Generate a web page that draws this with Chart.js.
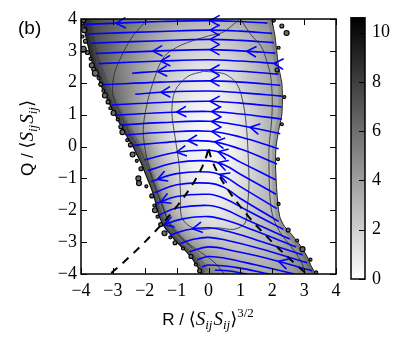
<!DOCTYPE html>
<html><head><meta charset="utf-8">
<script src="https://cdn.jsdelivr.net/npm/chart.js@4.4.0/dist/chart.umd.min.js"></script>
<style>
html,body{margin:0;padding:0;background:#fff;}
#wrap{position:relative;width:407px;height:346px;}
#wrap canvas{position:absolute;left:0;top:0;}
</style></head><body>
<div id="wrap"><canvas id="main" width="407" height="346" style="width:407px;height:346px"></canvas><canvas id="cb" width="407" height="346" style="width:407px;height:346px"></canvas></div>
<script>
// ---------------- data ----------------
const axisTicks = [-4,-3,-2,-1,0,1,2,3,4];
const cbTicks = [0,2,4,6,8,10];
const cbMax = 10.6;

// density grid (value of colour bar), rows = Q, columns = R
const gridR = [-4,-3.5,-3,-2.5,-2,-1.5,-1,-0.5,0,0.5,1,1.5,2,2.5,3,3.5,4];
const gridQ = [4,3.5,3,2.5,2,1.5,1,0.5,0,-0.5,-1,-1.5,-2,-2.5,-3,-3.5,-4];
const density = [
 [8.3,7.4,6.6,5.8,5.0,4.3,3.6,3.2,3.1,3.2,3.7,4.2,4.8,4.8,4.8,4.8,4.8],
 [8.2,7.2,6.2,5.2,4.3,3.5,2.8,2.4,2.3,2.4,2.8,3.4,4.3,4.5,4.5,4.5,4.5],
 [8.0,7.2,6.0,4.9,3.9,3.0,2.3,1.9,1.7,1.9,2.5,3.3,4.4,4.6,4.6,4.6,4.6],
 [7.8,7.1,5.8,4.6,3.6,2.6,1.9,1.3,1.1,1.3,1.9,2.8,3.8,4.3,4.3,4.3,4.3],
 [7.6,7.3,6.1,4.8,3.5,2.5,1.7,1.1,0.8,1.1,1.9,2.7,3.5,4.0,4.0,4.0,4.0],
 [7.4,7.3,6.4,4.8,3.3,2.2,1.4,0.8,0.5,0.8,1.5,2.5,3.4,3.8,3.8,3.8,3.8],
 [7.2,7.2,6.8,5.1,3.2,2.0,1.25,0.6,0.3,0.6,1.25,2.2,3.3,3.8,3.8,3.8,3.8],
 [7.0,7.0,7.0,5.9,3.6,2.0,1.1,0.5,0.25,0.4,1.1,2.1,3.2,3.6,3.6,3.6,3.6],
 [6.9,6.9,6.9,6.6,4.7,2.3,1.2,0.6,0.3,0.3,1.0,2.0,3.1,3.5,3.5,3.5,3.5],
 [6.8,6.8,6.8,6.7,5.4,3.0,1.5,0.6,0.35,0.4,1.1,2.0,3.1,3.5,3.5,3.5,3.5],
 [6.6,6.6,6.6,6.5,5.9,3.7,1.7,0.8,0.4,0.6,1.25,2.1,3.1,3.5,3.5,3.5,3.5],
 [6.4,6.4,6.4,6.3,6.1,4.6,2.2,1.1,0.7,0.8,1.5,2.3,3.1,3.6,3.6,3.6,3.6],
 [6.3,6.3,6.3,6.3,6.2,5.4,2.6,1.5,1.0,1.1,1.7,2.4,3.1,3.8,4.0,4.0,4.0],
 [6.3,6.3,6.3,6.3,6.3,6.0,4.3,2.3,1.6,1.5,1.9,2.5,3.1,3.9,4.5,4.5,4.5],
 [6.4,6.4,6.4,6.4,6.4,6.4,5.8,3.9,2.9,2.5,2.3,2.6,3.1,4.0,5.0,5.0,5.0],
 [6.5,6.5,6.5,6.5,6.5,6.5,6.4,5.7,4.2,3.4,3.0,3.0,3.3,4.0,5.2,6.0,6.0],
 [6.6,6.6,6.6,6.6,6.6,6.6,6.6,6.5,5.2,4.4,3.8,3.5,3.6,4.0,5.0,6.0,6.0]
];

// edges of the populated region
const leftEdgeQ = [4,3.75,3.5,3.25,3,2.75,2.5,2.25,2,1.75,1.5,1.25,1,0.75,0.5,0.25,0,-0.25,-0.5,-0.75,-1,-1.25,-1.5,-1.75,-2,-2.25,-2.5,-2.75,-3,-3.25,-3.5,-3.75,-4];
const leftEdgeR = [-3.95,-3.9,-3.86,-3.8,-3.74,-3.68,-3.6,-3.5,-3.4,-3.3,-3.18,-3.06,-2.93,-2.8,-2.66,-2.52,-2.37,-2.25,-2.12,-2.02,-1.92,-1.82,-1.73,-1.66,-1.6,-1.52,-1.4,-1.2,-1.0,-0.74,-0.52,-0.36,-0.22];
const rightEdgeQ = [-4,-3.75,-3.5,-3.25,-3,-2.75,-2.5,-2.25,-2,-1.5,-1,-0.5,0,0.5,1,1.5,2,2.5,3,3.5,4];
const rightEdgeR = [3.37,3.22,3.12,2.98,2.8,2.6,2.38,2.25,2.2,2.15,2.12,2.1,2.12,2.2,2.3,2.32,2.3,2.2,2.14,2.08,1.98];

// contour lines
const innerContour = [[-0.15,2.36],[0.5,2.28],[0.9,1.95],[1.1,1.3],[1.2,0.5],[1.25,-0.4],[1.27,-1.2],[1.22,-1.9],[1.15,-2.4],[0.8,-2.6],[0.3,-2.55],[-0.2,-2.6],[-0.6,-2.5],[-0.85,-2.2],[-0.88,-1.5],[-0.92,-0.6],[-1.05,0.3],[-1.15,1.1],[-1.05,1.75],[-0.65,2.2],[-0.15,2.36]];
const middleContour = [[0.98,4.0],[0.45,3.58],[0,3.47],[-0.86,3.18],[-1.4,2.81],[-1.75,1.98],[-1.95,1.24],[-2.05,0.5],[-1.95,-0.3],[-1.75,-1.0],[-1.5,-1.7],[-1.25,-2.35],[-0.85,-2.85],[-0.35,-3.25],[0.15,-3.6],[0.5,-4.0]];
const rightContour = [[1.0,4.0],[1.34,3.5],[1.66,3.13],[1.82,2.71],[1.95,2.2],[2.0,1.5],[1.98,0.8],[1.9,0.0],[1.9,-0.8],[1.93,-1.6],[2.02,-2.2],[2.25,-2.7],[2.6,-3.15],[2.9,-3.6],[3.05,-4.0]];
const outerContour = [[-1.9,4.0],[-2.35,3.5],[-2.65,3.0],[-2.95,2.3],[-3.0,1.6],[-2.75,1.0],[-2.45,0.4],[-2.1,-0.2],[-1.85,-0.8],[-1.6,-1.5],[-1.4,-2.0],[-1.2,-2.5],[-0.9,-2.85],[-0.5,-3.2]];

// isolated islands along the edges (R, Q, size)
const blobR = [-3.92,-3.98,-3.9,-3.95,-3.86,-3.93,-3.8,-3.7,-3.66,-3.6,-3.55,-3.45,-3.38,-3.3,-3.25,-3.15,-3.08,-2.98,-2.85,-2.75,-2.7,-2.55,-2.45,-2.38,-2.25,-2.12,-2.2,-2.18,-1.95,-1.78,-1.7,-1.68,-1.6,-1.5,-1.38,-1.2,-1.05,-0.8,-0.55,-0.4,-0.28,
               2.05,2.45,2.3,2.2,2.15,2.38,2.3,2.18,2.2,2.5,2.78,2.95,3.2,3.38];
const blobQ = [3.95,3.8,3.65,3.45,3.3,3.05,2.95,2.75,2.55,2.42,2.3,2.15,1.95,1.75,1.6,1.4,1.2,1.05,0.85,0.62,0.45,0.2,0.05,-0.25,-0.45,-0.7,-1.0,-1.15,-1.25,-1.55,-1.85,-2.0,-2.2,-2.45,-2.72,-2.85,-3.02,-3.2,-3.45,-3.7,-3.9,
               3.95,3.56,3.78,3.1,2.4,1.55,0.7,-0.4,-1.8,-2.62,-2.95,-3.22,-3.55,-3.95];
const blobSize = [2,1.5,2.5,1.5,2,3,2,1.5,2.5,2,3,1.5,2,1.5,2.5,2,1.5,2.5,1.5,2,2.5,1.5,2,2.5,1.5,2,2.5,2.5,1.5,2,1.5,2.5,1.5,2,2.5,1.5,2,1.5,2,1.5,2,
                  1.5,2.5,2,1.5,2,1.5,1.5,1.5,1.5,2,1.5,2.5,1.5,1.5];

// Vieillefosse line (dashed)
const vfR = [-3.05,-2.75,-2.5,-2.25,-2,-1.75,-1.5,-1.25,-1,-0.8,-0.6,-0.45,-0.3,-0.2,-0.1,-0.05,-0.01,0,0.01,0.05,0.1,0.2,0.3,0.45,0.6,0.8,1,1.25,1.5,1.75,2,2.25,2.5,2.75,3.05];
const vfQ = [-3.97,-3.71,-3.48,-3.245,-3.0,-2.744,-2.477,-2.193,-1.89,-1.629,-1.344,-1.11,-0.847,-0.646,-0.407,-0.256,-0.088,0,-0.088,-0.256,-0.407,-0.646,-0.847,-1.11,-1.344,-1.629,-1.89,-2.193,-2.477,-2.744,-3.0,-3.245,-3.48,-3.71,-3.97];

// streamlines, points [R,Q] listed in the flow direction (right to left)
const stream01 = [[1.85,3.87],[1.0,3.92],[0,3.95],[-1.5,3.92],[-3.85,3.83]];
const stream02 = [[2.0,3.55],[1.0,3.62],[0,3.65],[-1.5,3.61],[-3.8,3.53]];
const stream03 = [[2.05,3.26],[1.0,3.33],[0,3.36],[-1.5,3.32],[-3.7,3.24]];
const stream04 = [[2.1,2.93],[1.0,3.0],[0,3.04],[-1.5,3.0],[-3.55,2.92]];
const stream05 = [[2.15,2.6],[1.0,2.68],[0,2.72],[-1.5,2.68],[-3.45,2.6]];
const stream06 = [[2.2,2.27],[1.0,2.36],[0,2.4],[-1.5,2.36],[-2.4,2.3]];
const stream07 = [[2.25,1.92],[1.0,2.02],[0,2.06],[-1.5,2.02],[-3.3,1.94]];
const stream08 = [[2.3,1.58],[1.0,1.69],[0,1.74],[-1.5,1.7],[-2.3,1.64]];
const stream09 = [[2.3,1.24],[1.0,1.36],[0,1.42],[-1.5,1.38],[-3.05,1.3]];
const stream10 = [[2.3,0.86],[1.0,1.02],[0,1.1],[-1.5,1.06],[-2.9,0.98]];
const stream11 = [[2.25,0.4],[1.0,0.66],[0,0.79],[-1.5,0.75],[-2.75,0.67]];
const stream12 = [[2.2,-0.07],[1.0,0.3],[0,0.48],[-1.5,0.44],[-2.6,0.36]];
const stream13 = [[2.15,-0.55],[1.0,-0.08],[0,0.17],[-1.5,0.12],[-2.4,0.03]];
const stream14 = [[2.12,-1.05],[1.0,-0.49],[0.5,-0.23],[0,-0.12],[-1,-0.18],[-2.0,-0.42]];
const stream15 = [[2.12,-1.5],[1.0,-0.87],[0.5,-0.58],[0,-0.45],[-1,-0.5],[-1.9,-0.75]];
const stream16 = [[2.15,-1.95],[1.0,-1.26],[0.5,-0.94],[0,-0.8],[-1,-0.85],[-1.8,-1.1]];
const stream17 = [[2.2,-2.35],[1.0,-1.63],[0.5,-1.29],[0,-1.15],[-1,-1.2],[-1.7,-1.45]];
const stream18 = [[2.35,-2.6],[1.2,-2.0],[0.5,-1.63],[0,-1.5],[-1,-1.57],[-1.65,-1.8]];
const stream19 = [[2.55,-2.9],[1.2,-2.3],[0.5,-1.97],[0,-1.85],[-1,-1.93],[-1.55,-2.15]];
const stream20 = [[2.75,-3.15],[1.4,-2.62],[0.6,-2.33],[0,-2.2],[-0.8,-2.27],[-1.4,-2.45]];
const stream21 = [[2.95,-3.4],[1.5,-2.93],[0.6,-2.66],[0,-2.55],[-0.7,-2.62],[-1.2,-2.78]];
const stream22 = [[3.1,-3.65],[1.6,-3.2],[0.6,-2.95],[0,-2.85],[-0.5,-2.92],[-0.9,-3.05]];
const stream23 = [[3.25,-3.9],[1.8,-3.5],[0.8,-3.28],[0,-3.15],[-0.6,-3.3]];
const stream24 = [[2.7,-4.0],[1.5,-3.72],[0.6,-3.52],[0,-3.45],[-0.35,-3.55]];
const stream25 = [[1.9,-4.0],[0.9,-3.8],[0,-3.72],[-0.2,-3.78]];
const stream26 = [[1.2,-4.0],[0.6,-3.9],[0.2,-3.88]];
const streams = [stream01,stream02,stream03,stream04,stream05,stream06,stream07,stream08,stream09,stream10,stream11,stream12,stream13,stream14,stream15,stream16,stream17,stream18,stream19,stream20,stream21,stream22,stream23,stream24,stream25,stream26];
// R positions of arrow heads on each streamline
const arrowsAt = [[-2.9,0.05],[0.05],[0.05],[-1.75,0.05,1.2],[-1.5,2.05],[-1.6,0.05],[0.05],[-1.5],[0.05],[-1.0,0.1],[0.1,1.3],[0.1],[-0.65,0.2],[0.3,-1.0],[0.3],[0.35,-1.6],[],[-1.5],[],[-1.4],[-0.5],[],[2.2],[],[],[]];

// ---------------- helpers ----------------
const fmt = v => (v < 0 ? '\u2212' + Math.abs(v) : String(v));
const pts = arr => arr.map(p => ({x: p[0], y: p[1]}));
const zip = (a, b) => a.map((v, i) => ({x: v, y: b[i]}));

function bez(p0,p1,p2,p3,t){const u=1-t;return u*u*u*p0+3*u*u*t*p1+3*u*t*t*p2+t*t*t*p3;}
function dbez(p0,p1,p2,p3,t){const u=1-t;return 3*u*u*(p1-p0)+6*u*t*(p2-p1)+3*t*t*(p3-p2);}

const densityPlugin = {
  id: 'density',
  beforeDatasetsDraw(chart) {
    const {ctx, chartArea: a, scales: {x, y}} = chart;
    const nr = gridQ.length, nc = gridR.length;
    const off = document.createElement('canvas');
    off.width = nc; off.height = nr;
    const octx = off.getContext('2d');
    const img = octx.createImageData(nc, nr);
    for (let r = 0; r < nr; r++) for (let c = 0; c < nc; c++) {
      const g = Math.max(0, Math.min(255, Math.round(255 * (1 - density[r][c] / cbMax))));
      const k = 4 * (r * nc + c);
      img.data[k] = g; img.data[k+1] = g; img.data[k+2] = g; img.data[k+3] = 255;
    }
    octx.putImageData(img, 0, 0);
    ctx.save();
    ctx.beginPath(); ctx.rect(a.left, a.top, a.right - a.left, a.bottom - a.top); ctx.clip();
    const region = new Path2D();
    leftEdgeQ.forEach((q, i) => { const px = x.getPixelForValue(leftEdgeR[i]), py = y.getPixelForValue(q); i ? region.lineTo(px, py) : region.moveTo(px, py - 3); });
    rightEdgeQ.forEach((q, i) => region.lineTo(x.getPixelForValue(rightEdgeR[i]), y.getPixelForValue(q) - (i === rightEdgeQ.length - 1 ? 3 : 0)));
    region.closePath();
    ctx.clip(region);
    ctx.imageSmoothingEnabled = true; ctx.imageSmoothingQuality = 'high';
    const dR = gridR[1] - gridR[0], dQ = gridQ[0] - gridQ[1];
    const x0 = x.getPixelForValue(gridR[0] - dR/2), x1 = x.getPixelForValue(gridR[nc-1] + dR/2);
    const y0 = y.getPixelForValue(gridQ[0] + dQ/2), y1 = y.getPixelForValue(gridQ[nr-1] - dQ/2);
    ctx.drawImage(off, x0, y0, x1 - x0, y1 - y0);
    // darker rim along the sparsely sampled edges
    const left = new Path2D();
    leftEdgeQ.forEach((q, i) => { const px = x.getPixelForValue(leftEdgeR[i]), py = y.getPixelForValue(q); i ? left.lineTo(px, py) : left.moveTo(px, py); });
    const right = new Path2D();
    rightEdgeQ.forEach((q, i) => { const px = x.getPixelForValue(rightEdgeR[i]), py = y.getPixelForValue(q); i ? right.lineTo(px, py) : right.moveTo(px, py); });
    ctx.lineJoin = 'round';
    ctx.strokeStyle = 'rgba(0,0,0,0.16)'; ctx.lineWidth = 16; ctx.stroke(left);
    ctx.strokeStyle = 'rgba(0,0,0,0.22)'; ctx.lineWidth = 7; ctx.stroke(left);
    ctx.strokeStyle = 'rgba(0,0,0,0.12)'; ctx.lineWidth = 8; ctx.stroke(right);
    ctx.restore();
  }
};

const arrowPlugin = {
  id: 'arrows',
  afterDatasetsDraw(chart) {
    const ctx = chart.ctx, xs = chart.scales.x;
    chart.data.datasets.forEach((ds, i) => {
      if (!ds.arrowAt) return;
      const P = chart.getDatasetMeta(i).data;
      ds.arrowAt.forEach(r => {
        const xt = xs.getPixelForValue(r);
        for (let k = 0; k < P.length - 1; k++) {
          const A = P[k], B = P[k+1];
          if ((xt - A.x) * (xt - B.x) > 0) continue;
          const c1x = A.cp2x ?? A.x, c1y = A.cp2y ?? A.y, c2x = B.cp1x ?? B.x, c2y = B.cp1y ?? B.y;
          const inc = B.x > A.x;
          let lo = 0, hi = 1;
          for (let it = 0; it < 40; it++) { const m = (lo + hi) / 2; const v = bez(A.x, c1x, c2x, B.x, m); if ((v < xt) === inc) lo = m; else hi = m; }
          const t = (lo + hi) / 2;
          const px = bez(A.x, c1x, c2x, B.x, t), py = bez(A.y, c1y, c2y, B.y, t);
          let dx = dbez(A.x, c1x, c2x, B.x, t), dy = dbez(A.y, c1y, c2y, B.y, t);
          const n = Math.hypot(dx, dy) || 1; dx /= n; dy /= n;
          const L = 9, W = 5;
          ctx.save();
          ctx.strokeStyle = ds.borderColor; ctx.lineWidth = 1.6; ctx.lineCap = 'round'; ctx.lineJoin = 'round';
          ctx.beginPath();
          ctx.moveTo(px - dx*L - dy*W, py - dy*L + dx*W);
          ctx.lineTo(px, py);
          ctx.lineTo(px - dx*L + dy*W, py - dy*L - dx*W);
          ctx.stroke();
          ctx.restore();
          break;
        }
      });
    });
  }
};

function drawRich(ctx, segs, cx, cy, rot) {
  ctx.save();
  ctx.translate(cx, cy);
  if (rot) ctx.rotate(rot);
  let total = 0;
  segs.forEach(s => { ctx.font = s.f; s.w = ctx.measureText(s.t).width; total += s.w + (s.gap || 0); });
  let xx = -total / 2;
  ctx.fillStyle = '#000'; ctx.textBaseline = 'alphabetic'; ctx.textAlign = 'left';
  segs.forEach(s => { ctx.font = s.f; ctx.fillText(s.t, xx, s.dy || 0); xx += s.w + (s.gap || 0); });
  ctx.restore();
}

const SANS = '"Liberation Sans", Arial, sans-serif';
const SERIF = '"Liberation Serif", "DejaVu Serif", serif';
function mathSegs(prefix, sup) {
  const s = [
    {t: prefix, f: '17px ' + SANS},
    {t: '\u27E8', f: '18px "DejaVu Serif", "DejaVu Sans", serif'},
    {t: 'S', f: 'italic 19px ' + SERIF},
    {t: 'ij', f: 'italic 13px ' + SERIF, dy: 4, gap: 1},
    {t: 'S', f: 'italic 19px ' + SERIF},
    {t: 'ij', f: 'italic 13px ' + SERIF, dy: 4},
    {t: '\u27E9', f: '18px "DejaVu Serif", "DejaVu Sans", serif'}
  ];
  if (sup) s.push({t: sup, f: '13px ' + SERIF, dy: -8});
  return s;
}

const framePlugin = {
  id: 'frame',
  afterDraw(chart) {
    const {ctx, chartArea: a, scales: {x, y}} = chart;
    ctx.save();
    ctx.strokeStyle = '#000'; ctx.lineWidth = 1;
    ctx.beginPath();
    axisTicks.forEach(v => {
      const px = Math.round(x.getPixelForValue(v)) + 0.5;
      ctx.moveTo(px, a.bottom); ctx.lineTo(px, a.bottom - 6);
      ctx.moveTo(px, a.top); ctx.lineTo(px, a.top + 6);
      const py = Math.round(y.getPixelForValue(v)) + 0.5;
      ctx.moveTo(a.left, py); ctx.lineTo(a.left + 6, py);
      ctx.moveTo(a.right, py); ctx.lineTo(a.right - 6, py);
    });
    ctx.stroke();
    ctx.lineWidth = 1.5;
    ctx.strokeRect(a.left, a.top, a.right - a.left, a.bottom - a.top);
    ctx.restore();
    drawRich(ctx, mathSegs('R / ', '3/2'), 208, 325, 0);
    drawRich(ctx, mathSegs('Q / ', null), 33, 138, -Math.PI / 2);
    ctx.save();
    ctx.font = '19px ' + SANS; ctx.fillStyle = '#000'; ctx.textBaseline = 'alphabetic';
    ctx.fillText('(b)', 18, 34);
    ctx.restore();
  }
};

// ---------------- main chart ----------------
const datasets = [];
datasets.push({label: 'edgeL', data: zip(leftEdgeR, leftEdgeQ), showLine: true, borderColor: '#111', borderWidth: 1.2, pointRadius: 0, tension: 0.2, order: 9});
datasets.push({label: 'edgeR', data: zip(rightEdgeR, rightEdgeQ), showLine: true, borderColor: '#222', borderWidth: 1.0, pointRadius: 0, tension: 0.2, order: 9});
[innerContour, middleContour, rightContour, outerContour].forEach(c => datasets.push({data: pts(c), showLine: true, borderColor: '#2b2b2b', borderWidth: 0.8, pointRadius: 0, tension: 0.3, order: 8}));
datasets.push({label: 'islands', data: zip(blobR, blobQ), showLine: false, pointRadius: blobSize, pointBackgroundColor: '#6a6a6a', pointBorderColor: '#000', pointBorderWidth: 1.1, order: 7});
streams.forEach((s, i) => datasets.push({data: pts(s), showLine: true, borderColor: '#0000ff', borderWidth: 1.6, pointRadius: 0, tension: 0.4, arrowAt: arrowsAt[i], order: 5}));
datasets.push({label: 'vieillefosse', data: zip(vfR, vfQ), showLine: true, borderColor: '#000', borderWidth: 2, borderDash: [8, 7], pointRadius: 0, tension: 0, order: 1});

new Chart(document.getElementById('main'), {
  type: 'scatter',
  data: {datasets},
  options: {
    responsive: false, devicePixelRatio: 1, animation: false, events: [],
    layout: {padding: {top: 19, right: 71, left: 0, bottom: 0}},
    plugins: {legend: {display: false}, tooltip: {enabled: false}},
    scales: {
      x: {type: 'linear', min: -4, max: 4,
          afterBuildTicks: s => { s.ticks = axisTicks.map(v => ({value: v})); },
          afterFit: s => { s.height = 72; },
          ticks: {callback: fmt, color: '#000', font: {family: 'Liberation Serif', size: 18}, padding: 6, autoSkip: false, maxRotation: 0},
          grid: {display: false, drawTicks: false}, border: {display: false}},
      y: {type: 'linear', min: -4, max: 4,
          afterBuildTicks: s => { s.ticks = axisTicks.map(v => ({value: v})); },
          afterFit: s => { s.width = 81; },
          ticks: {callback: fmt, color: '#000', font: {family: 'Liberation Serif', size: 18}, padding: 4, autoSkip: false},
          grid: {display: false, drawTicks: false}, border: {display: false}}
    }
  },
  plugins: [densityPlugin, arrowPlugin, framePlugin]
});

// ---------------- colour bar ----------------
const cbFrame = {
  id: 'cbframe',
  afterDraw(chart) {
    const {ctx, chartArea: a, scales: {y}} = chart;
    ctx.save();
    ctx.strokeStyle = '#000'; ctx.lineWidth = 1;
    ctx.beginPath();
    cbTicks.forEach(v => { const py = Math.round(y.getPixelForValue(v)) + 0.5; ctx.moveTo(a.right, py); ctx.lineTo(a.right - 6, py); });
    ctx.stroke();
    ctx.lineWidth = 1.5;
    ctx.strokeRect(a.left, a.top, a.right - a.left, a.bottom - a.top);
    ctx.restore();
  }
};
new Chart(document.getElementById('cb'), {
  type: 'bar',
  data: {labels: ['c'], datasets: [{data: [cbMax], borderWidth: 0, barPercentage: 1, categoryPercentage: 1,
    backgroundColor: c => {
      const ch = c.chart; if (!ch.chartArea) return '#888';
      const ys = ch.scales.y;
      const g = ch.ctx.createLinearGradient(0, ys.getPixelForValue(0), 0, ys.getPixelForValue(cbMax));
      g.addColorStop(0, '#ffffff'); g.addColorStop(1, '#000000');
      return g;
    }}]},
  options: {
    responsive: false, devicePixelRatio: 1, animation: false, events: [],
    layout: {padding: {left: 351, top: 13, bottom: 67, right: 0}},
    plugins: {legend: {display: false}, tooltip: {enabled: false}},
    scales: {
      x: {display: false},
      y: {position: 'right', min: 0, max: cbMax,
          afterBuildTicks: s => { s.ticks = cbTicks.map(v => ({value: v})); },
          afterFit: s => { s.width = 42; },
          ticks: {color: '#000', font: {family: 'Liberation Serif', size: 18}, padding: 7},
          grid: {display: false, drawTicks: false}, border: {display: false}}
    }
  },
  plugins: [cbFrame]
});
</script></body></html>
